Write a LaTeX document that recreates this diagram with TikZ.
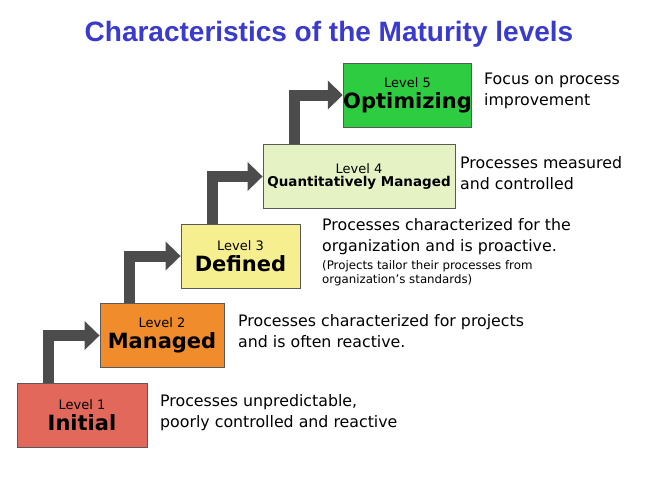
\documentclass[tikz,border=0pt]{standalone}
\usepackage{fontspec}
\setmainfont{DejaVu Sans}
\newfontfamily\ttlfont{Liberation Sans}
\usetikzlibrary{arrows.meta}
\definecolor{cA}{HTML}{E2685C}
\definecolor{cB}{HTML}{F08C2C}
\definecolor{cC}{HTML}{F6EF90}
\definecolor{cD}{HTML}{E4F2C4}
\definecolor{cE}{HTML}{2ECC40}
\definecolor{ttl}{HTML}{3A3ACC}
\begin{document}
\begin{tikzpicture}[x=1pt,y=-1pt,
 lvl/.style={draw=gray!70!black,line width=0.8pt,minimum height=64pt,align=center,inner sep=0pt},
 desc/.style={anchor=north west,align=left,font=\fontsize{15.8}{21}\selectfont,inner sep=0pt},
 stp/.style={line width=11pt,draw=gray!60!black,-{Triangle[length=15pt,width=28pt]}}]
\useasboundingbox (0,0) rectangle (657,480);
\node[font=\ttlfont\fontsize{28}{30}\selectfont\bfseries,text=ttl] (t) at (329,34) {Characteristics of the Maturity levels};
\node[lvl,fill=cA,minimum width=130pt] (l1) at (82,415) {\fontsize{13}{15}\selectfont Level 1\\[4pt]\fontsize{21}{24}\selectfont\bfseries Initial};
\node[lvl,fill=cB,minimum width=124pt] (l2) at (162,335.5) {\fontsize{13}{15}\selectfont Level 2\\[4pt]\fontsize{21}{24}\selectfont\bfseries Managed};
\node[lvl,fill=cC,minimum width=119pt] (l3) at (240.5,256) {\fontsize{13}{15}\selectfont Level 3\\[4pt]\fontsize{21}{24}\selectfont\bfseries Defined};
\node[lvl,fill=cD,minimum width=192pt] (l4) at (359,176.5) {\fontsize{13}{15}\selectfont Level 4\\[1pt]\fontsize{13.5}{16}\selectfont\bfseries Quantitatively Managed};
\node[lvl,fill=cE,minimum width=125pt] (l5) at (407.5,95) {\fontsize{13}{15}\selectfont Level 5\\[4pt]\fontsize{21}{24}\selectfont\bfseries Optimizing};
\draw[stp] (l1.north west)++(32,0) coordinate (a1) |- (l2.west);
\draw[stp] (l2.north west)++(30,0) coordinate (a2) |- (l3.west);
\draw[stp] (l3.north west)++(32,0) coordinate (a3) |- (l4.west);
\draw[stp] (l4.north west)++(32,0) coordinate (a4) |- (l5.west);
\node[desc] (d1) at (160,394) {Processes unpredictable,\\poorly controlled and reactive};
\node[desc] (d2) at (238,314) {Processes characterized for projects\\and is often reactive.};
\node[desc] (d3) at (322,218) {Processes characterized for the\\organization and is proactive.\\[-3pt]{\fontsize{11.8}{13}\selectfont (Projects tailor their processes from}\\[-7pt]{\fontsize{11.8}{13}\selectfont organization's standards)}};
\node[desc] (d4) at (460,156) {Processes measured\\and controlled};
\node[desc] (d5) at (484,73) {Focus on process\\improvement};
\end{tikzpicture}
\end{document}
